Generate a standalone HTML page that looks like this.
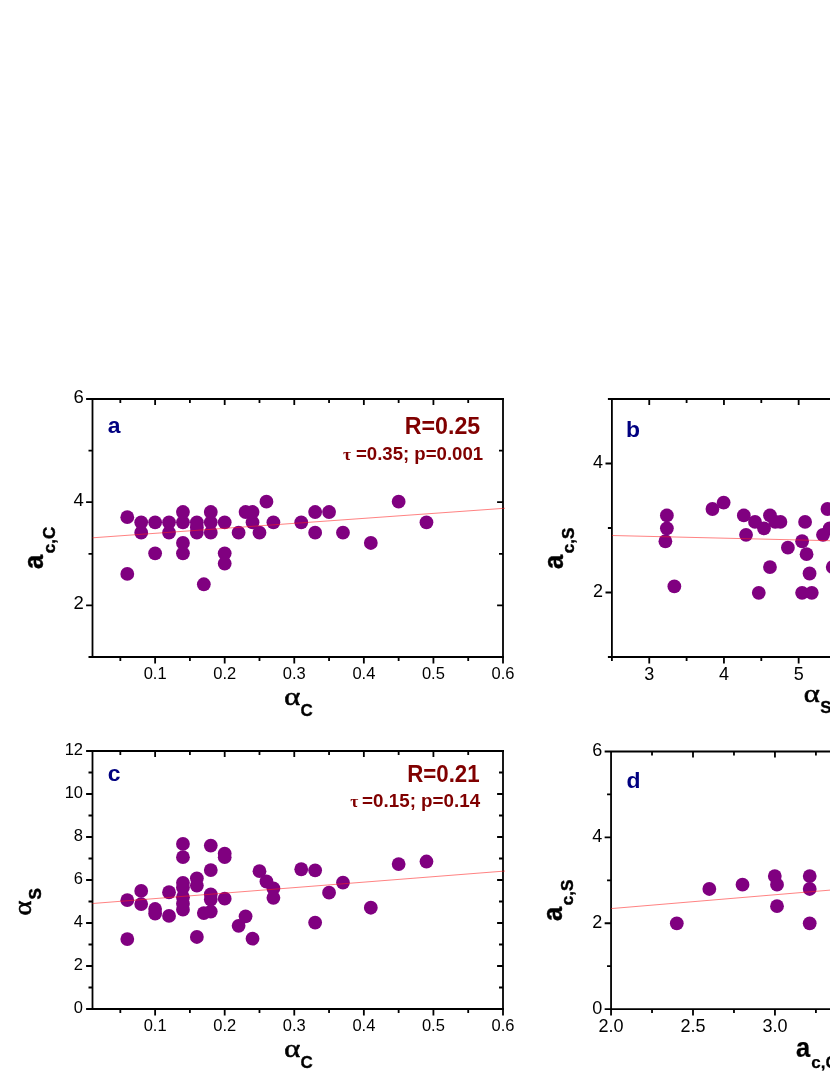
<!DOCTYPE html>
<html><head><meta charset="utf-8"><title>figure</title>
<style>html,body{margin:0;padding:0;background:#fff}svg{display:block;will-change:transform}text{font-family:"Liberation Sans",sans-serif}.tk{fill:#000}.b{font-weight:bold}.sr{font-family:"Liberation Serif",serif}</style></head><body>
<svg width="830" height="1075" viewBox="0 0 830 1075">
<rect width="830" height="1075" fill="#fff"/>
<g fill="#800080">
<circle cx="127.29" cy="517.18" r="6.9"/>
<circle cx="127.29" cy="573.94" r="6.9"/>
<circle cx="141.2" cy="522.34" r="6.9"/>
<circle cx="141.2" cy="532.66" r="6.9"/>
<circle cx="155.12" cy="522.34" r="6.9"/>
<circle cx="155.12" cy="553.3" r="6.9"/>
<circle cx="169.03" cy="522.34" r="6.9"/>
<circle cx="169.03" cy="532.66" r="6.9"/>
<circle cx="182.95" cy="512.02" r="6.9"/>
<circle cx="182.95" cy="522.34" r="6.9"/>
<circle cx="182.95" cy="542.98" r="6.9"/>
<circle cx="182.95" cy="553.3" r="6.9"/>
<circle cx="196.86" cy="522.34" r="6.9"/>
<circle cx="196.86" cy="527.5" r="6.9"/>
<circle cx="196.86" cy="532.66" r="6.9"/>
<circle cx="210.78" cy="512.02" r="6.9"/>
<circle cx="210.78" cy="522.34" r="6.9"/>
<circle cx="210.78" cy="532.66" r="6.9"/>
<circle cx="224.69" cy="522.34" r="6.9"/>
<circle cx="224.69" cy="553.3" r="6.9"/>
<circle cx="224.69" cy="563.62" r="6.9"/>
<circle cx="203.82" cy="584.26" r="6.9"/>
<circle cx="238.61" cy="532.66" r="6.9"/>
<circle cx="245.57" cy="512.02" r="6.9"/>
<circle cx="252.53" cy="512.02" r="6.9"/>
<circle cx="252.53" cy="522.34" r="6.9"/>
<circle cx="259.48" cy="532.66" r="6.9"/>
<circle cx="266.44" cy="501.7" r="6.9"/>
<circle cx="273.4" cy="522.34" r="6.9"/>
<circle cx="301.23" cy="522.34" r="6.9"/>
<circle cx="315.14" cy="512.02" r="6.9"/>
<circle cx="315.14" cy="532.66" r="6.9"/>
<circle cx="329.06" cy="512.02" r="6.9"/>
<circle cx="342.97" cy="532.66" r="6.9"/>
<circle cx="370.81" cy="542.98" r="6.9"/>
<circle cx="398.64" cy="501.7" r="6.9"/>
<circle cx="426.47" cy="522.34" r="6.9"/>
<path d="M92.5 398L92.5 658M91.5 657L504 657M91.5 399L504 399M503 398L503 658M120.33 657L120.33 661M120.33 399L120.33 403M155.12 657L155.12 663.4M155.12 399L155.12 404.9M189.91 657L189.91 661M189.91 399L189.91 403M224.69 657L224.69 663.4M224.69 399L224.69 404.9M259.48 657L259.48 661M259.48 399L259.48 403M294.27 657L294.27 663.4M294.27 399L294.27 404.9M329.06 657L329.06 661M329.06 399L329.06 403M363.85 657L363.85 663.4M363.85 399L363.85 404.9M398.64 657L398.64 661M398.64 399L398.64 403M433.42 657L433.42 663.4M433.42 399L433.42 404.9M468.21 657L468.21 661M468.21 399L468.21 403M503 657L503 663.4M503 399L503 404.9M88.5 657L92.5 657M499 657L503 657M86.1 605.4L92.5 605.4M497.1 605.4L503 605.4M88.5 553.8L92.5 553.8M499 553.8L503 553.8M86.1 502.2L92.5 502.2M497.1 502.2L503 502.2M88.5 450.6L92.5 450.6M499 450.6L503 450.6M86.1 399L92.5 399M497.1 399L503 399" stroke="#000" stroke-width="1.8" fill="none"/>
<line x1="92.5" y1="537.8" x2="505" y2="508.26" stroke="#ff2020" stroke-width="0.7" opacity="0.8"/>
<text class="tk" font-size="16.5" x="155.12" y="679.2" text-anchor="middle">0.1</text>
<text class="tk" font-size="16.5" x="224.69" y="679.2" text-anchor="middle">0.2</text>
<text class="tk" font-size="16.5" x="294.27" y="679.2" text-anchor="middle">0.3</text>
<text class="tk" font-size="16.5" x="363.85" y="679.2" text-anchor="middle">0.4</text>
<text class="tk" font-size="16.5" x="433.42" y="679.2" text-anchor="middle">0.5</text>
<text class="tk" font-size="16.5" x="503" y="679.2" text-anchor="middle">0.6</text>
<text class="tk" font-size="18.5" x="83.9" y="609.4" text-anchor="end">2</text>
<text class="tk" font-size="18.5" x="83.9" y="506.2" text-anchor="end">4</text>
<text class="tk" font-size="18.5" x="83.9" y="403" text-anchor="end">6</text>
<circle cx="127.29" cy="900.21" r="6.9"/>
<circle cx="127.29" cy="939.12" r="6.9"/>
<circle cx="141.2" cy="890.97" r="6.9"/>
<circle cx="141.2" cy="904.08" r="6.9"/>
<circle cx="155.12" cy="909.02" r="6.9"/>
<circle cx="155.12" cy="913.54" r="6.9"/>
<circle cx="169.03" cy="892.25" r="6.9"/>
<circle cx="169.03" cy="915.9" r="6.9"/>
<circle cx="182.95" cy="843.88" r="6.9"/>
<circle cx="182.95" cy="857.21" r="6.9"/>
<circle cx="182.95" cy="882.79" r="6.9"/>
<circle cx="182.95" cy="887.52" r="6.9"/>
<circle cx="182.95" cy="897.2" r="6.9"/>
<circle cx="182.95" cy="903.65" r="6.9"/>
<circle cx="182.95" cy="909.67" r="6.9"/>
<circle cx="196.86" cy="878.28" r="6.9"/>
<circle cx="196.86" cy="885.59" r="6.9"/>
<circle cx="196.86" cy="936.98" r="6.9"/>
<circle cx="203.82" cy="913.11" r="6.9"/>
<circle cx="210.78" cy="845.6" r="6.9"/>
<circle cx="210.78" cy="870.11" r="6.9"/>
<circle cx="210.78" cy="894.4" r="6.9"/>
<circle cx="210.78" cy="899.57" r="6.9"/>
<circle cx="210.78" cy="911.61" r="6.9"/>
<circle cx="224.69" cy="853.55" r="6.9"/>
<circle cx="224.69" cy="857.21" r="6.9"/>
<circle cx="224.69" cy="898.71" r="6.9"/>
<circle cx="238.61" cy="925.79" r="6.9"/>
<circle cx="245.57" cy="916.34" r="6.9"/>
<circle cx="252.53" cy="938.7" r="6.9"/>
<circle cx="259.48" cy="871.18" r="6.9"/>
<circle cx="266.44" cy="881.5" r="6.9"/>
<circle cx="273.4" cy="888.38" r="6.9"/>
<circle cx="273.4" cy="897.85" r="6.9"/>
<circle cx="301.23" cy="869.25" r="6.9"/>
<circle cx="315.14" cy="870.33" r="6.9"/>
<circle cx="315.14" cy="922.57" r="6.9"/>
<circle cx="329.06" cy="892.68" r="6.9"/>
<circle cx="342.97" cy="882.58" r="6.9"/>
<circle cx="370.81" cy="907.74" r="6.9"/>
<circle cx="398.64" cy="864.09" r="6.9"/>
<circle cx="426.47" cy="861.51" r="6.9"/>
<path d="M92.5 750L92.5 1010M91.5 1009L504 1009M91.5 751L504 751M503 750L503 1010M120.33 1009L120.33 1013M120.33 751L120.33 755M155.12 1009L155.12 1015.4M155.12 751L155.12 756.9M189.91 1009L189.91 1013M189.91 751L189.91 755M224.69 1009L224.69 1015.4M224.69 751L224.69 756.9M259.48 1009L259.48 1013M259.48 751L259.48 755M294.27 1009L294.27 1015.4M294.27 751L294.27 756.9M329.06 1009L329.06 1013M329.06 751L329.06 755M363.85 1009L363.85 1015.4M363.85 751L363.85 756.9M398.64 1009L398.64 1013M398.64 751L398.64 755M433.42 1009L433.42 1015.4M433.42 751L433.42 756.9M468.21 1009L468.21 1013M468.21 751L468.21 755M503 1009L503 1015.4M503 751L503 756.9M86.1 1009L92.5 1009M497.1 1009L503 1009M88.5 987.5L92.5 987.5M499 987.5L503 987.5M86.1 966L92.5 966M497.1 966L503 966M88.5 944.5L92.5 944.5M499 944.5L503 944.5M86.1 923L92.5 923M497.1 923L503 923M88.5 901.5L92.5 901.5M499 901.5L503 901.5M86.1 880L92.5 880M497.1 880L503 880M88.5 858.5L92.5 858.5M499 858.5L503 858.5M86.1 837L92.5 837M497.1 837L503 837M88.5 815.5L92.5 815.5M499 815.5L503 815.5M86.1 794L92.5 794M497.1 794L503 794M88.5 772.5L92.5 772.5M499 772.5L503 772.5M86.1 751L92.5 751M497.1 751L503 751" stroke="#000" stroke-width="1.8" fill="none"/>
<line x1="92.5" y1="903.5" x2="505" y2="871.04" stroke="#ff2020" stroke-width="0.7" opacity="0.8"/>
<text class="tk" font-size="16.5" x="155.12" y="1031.2" text-anchor="middle">0.1</text>
<text class="tk" font-size="16.5" x="224.69" y="1031.2" text-anchor="middle">0.2</text>
<text class="tk" font-size="16.5" x="294.27" y="1031.2" text-anchor="middle">0.3</text>
<text class="tk" font-size="16.5" x="363.85" y="1031.2" text-anchor="middle">0.4</text>
<text class="tk" font-size="16.5" x="433.42" y="1031.2" text-anchor="middle">0.5</text>
<text class="tk" font-size="16.5" x="503" y="1031.2" text-anchor="middle">0.6</text>
<text class="tk" font-size="16.5" x="83" y="1013.3" text-anchor="end">0</text>
<text class="tk" font-size="16.5" x="83" y="970.3" text-anchor="end">2</text>
<text class="tk" font-size="16.5" x="83" y="927.3" text-anchor="end">4</text>
<text class="tk" font-size="16.5" x="83" y="884.3" text-anchor="end">6</text>
<text class="tk" font-size="16.5" x="83" y="841.3" text-anchor="end">8</text>
<text class="tk" font-size="16.5" x="83" y="798.3" text-anchor="end">10</text>
<text class="tk" font-size="16.5" x="83" y="755.3" text-anchor="end">12</text>
<circle cx="666.88" cy="515.45" r="6.9"/>
<circle cx="666.88" cy="528.35" r="6.9"/>
<circle cx="665.39" cy="541.25" r="6.9"/>
<circle cx="674.35" cy="586.4" r="6.9"/>
<circle cx="712.45" cy="509" r="6.9"/>
<circle cx="723.65" cy="502.55" r="6.9"/>
<circle cx="743.82" cy="515.45" r="6.9"/>
<circle cx="746.06" cy="534.8" r="6.9"/>
<circle cx="755.03" cy="521.9" r="6.9"/>
<circle cx="763.99" cy="528.35" r="6.9"/>
<circle cx="769.97" cy="515.45" r="6.9"/>
<circle cx="775.2" cy="521.9" r="6.9"/>
<circle cx="780.43" cy="521.9" r="6.9"/>
<circle cx="769.97" cy="567.05" r="6.9"/>
<circle cx="758.76" cy="592.85" r="6.9"/>
<circle cx="787.89" cy="547.7" r="6.9"/>
<circle cx="805.08" cy="521.9" r="6.9"/>
<circle cx="802.09" cy="541.25" r="6.9"/>
<circle cx="806.57" cy="554.15" r="6.9"/>
<circle cx="809.56" cy="573.5" r="6.9"/>
<circle cx="802.09" cy="592.85" r="6.9"/>
<circle cx="811.8" cy="592.85" r="6.9"/>
<circle cx="823" cy="534.8" r="6.9"/>
<circle cx="827.49" cy="509" r="6.9"/>
<circle cx="829.73" cy="528.35" r="6.9"/>
<circle cx="832.72" cy="567.05" r="6.9"/>
<path d="M611.9 398L611.9 658M610.9 657L911.7 657M610.9 399L911.7 399M611.9 657L611.9 661M611.9 399L611.9 403M649.25 657L649.25 663.4M649.25 399L649.25 404.9M686.6 657L686.6 661M686.6 399L686.6 403M723.95 657L723.95 663.4M723.95 399L723.95 404.9M761.3 657L761.3 661M761.3 399L761.3 403M798.65 657L798.65 663.4M798.65 399L798.65 404.9M607.9 657L611.9 657M605.5 592.5L611.9 592.5M607.9 528L611.9 528M605.5 463.5L611.9 463.5M607.9 399L611.9 399" stroke="#000" stroke-width="1.8" fill="none"/>
<line x1="611.9" y1="535.5" x2="840" y2="540.94" stroke="#ff2020" stroke-width="0.7" opacity="0.8"/>
<text class="tk" font-size="18" x="649.25" y="680.1" text-anchor="middle">3</text>
<text class="tk" font-size="18" x="723.95" y="680.1" text-anchor="middle">4</text>
<text class="tk" font-size="18" x="798.65" y="680.1" text-anchor="middle">5</text>
<text class="tk" font-size="18" x="603.1" y="597.3" text-anchor="end">2</text>
<text class="tk" font-size="18" x="603.1" y="468.3" text-anchor="end">4</text>
<circle cx="676.79" cy="923.33" r="6.9"/>
<circle cx="709.33" cy="888.99" r="6.9"/>
<circle cx="742.52" cy="884.69" r="6.9"/>
<circle cx="774.8" cy="876.11" r="6.9"/>
<circle cx="777.02" cy="884.69" r="6.9"/>
<circle cx="777.02" cy="906.16" r="6.9"/>
<circle cx="809.71" cy="876.11" r="6.9"/>
<circle cx="809.71" cy="888.99" r="6.9"/>
<circle cx="809.71" cy="923.33" r="6.9"/>
<path d="M611.05 750.5L611.05 1010.1M610.05 1009.1L939.85 1009.1M610.05 751.5L939.85 751.5M611.05 1009.1L611.05 1015.5M611.05 751.5L611.05 757.4M652.02 1009.1L652.02 1013.1M652.02 751.5L652.02 755.5M693 1009.1L693 1015.5M693 751.5L693 757.4M733.97 1009.1L733.97 1013.1M733.97 751.5L733.97 755.5M774.95 1009.1L774.95 1015.5M774.95 751.5L774.95 757.4M815.92 1009.1L815.92 1013.1M815.92 751.5L815.92 755.5M604.65 1009.1L611.05 1009.1M607.05 966.17L611.05 966.17M604.65 923.23L611.05 923.23M607.05 880.3L611.05 880.3M604.65 837.37L611.05 837.37M607.05 794.43L611.05 794.43M604.65 751.5L611.05 751.5" stroke="#000" stroke-width="1.8" fill="none"/>
<line x1="611.05" y1="908.6" x2="840" y2="889.28" stroke="#ff2020" stroke-width="0.7" opacity="0.8"/>
<text class="tk" font-size="18" x="611.05" y="1032.2" text-anchor="middle">2.0</text>
<text class="tk" font-size="18" x="693" y="1032.2" text-anchor="middle">2.5</text>
<text class="tk" font-size="18" x="774.95" y="1032.2" text-anchor="middle">3.0</text>
<text class="tk" font-size="18" x="602.25" y="1013.9" text-anchor="end">0</text>
<text class="tk" font-size="18" x="602.25" y="928.03" text-anchor="end">2</text>
<text class="tk" font-size="18" x="602.25" y="842.17" text-anchor="end">4</text>
<text class="tk" font-size="18" x="602.25" y="756.3" text-anchor="end">6</text>
</g>
<g class="b">
<text transform="translate(107.8 432.6) scale(1 1)" font-size="22.9" fill="#000080">a</text>
<text transform="translate(626.0 436.6) scale(1 1)" font-size="22.9" fill="#000080">b</text>
<text transform="translate(107.7 780.9) scale(1 1)" font-size="22.9" fill="#000080">c</text>
<text transform="translate(626.6 788.4) scale(1 1)" font-size="22.9" fill="#000080">d</text>
<text transform="translate(480.2 433.7) scale(1 1)" font-size="23.2" text-anchor="end" fill="#800000">R=0.25</text>
<text transform="translate(483.1 459.9) scale(1 1)" font-size="18.6" text-anchor="end" fill="#800000">=0.35; p=0.001</text>
<text class="sr" x="343" y="459.9" font-size="17.5" fill="#800000">τ</text>
<text transform="translate(479.6 781.6) scale(0.96 1)" font-size="23.2" text-anchor="end" fill="#800000">R=0.21</text>
<text transform="translate(480.1 806.8) scale(1.01 1)" font-size="18.6" text-anchor="end" fill="#800000">=0.15; p=0.14</text>
<text class="sr" x="350.2" y="806.8" font-size="17.5" fill="#800000">τ</text>
<text transform="translate(43.3 569) rotate(-90) scale(0.93 1)" font-size="27.4" stroke="#000" stroke-width="0.45" stroke-linejoin="round">a</text>
<text transform="translate(54.7 553.2) rotate(-90)" font-size="17" stroke="#000" stroke-width="0.45" stroke-linejoin="round">c,C</text>
<text transform="translate(563.3 569) rotate(-90) scale(0.93 1)" font-size="27.4" stroke="#000" stroke-width="0.45" stroke-linejoin="round">a</text>
<text transform="translate(573.8 553.3) rotate(-90)" font-size="17" stroke="#000" stroke-width="0.45" stroke-linejoin="round">c,S</text>
<text transform="translate(562.3 921) rotate(-90) scale(0.93 1)" font-size="27.4" stroke="#000" stroke-width="0.45" stroke-linejoin="round">a</text>
<text transform="translate(573.0 905.3) rotate(-90)" font-size="17" stroke="#000" stroke-width="0.45" stroke-linejoin="round">c,S</text>
<text class="sr" transform="translate(30.6 915.6) rotate(-90) scale(1.1 1)" font-size="26" font-weight="normal" stroke="#000" stroke-width="0.55" stroke-linejoin="round">α</text>
<text transform="translate(41.3 899.6) rotate(-90)" font-size="17" stroke="#000" stroke-width="0.5" stroke-linejoin="round">S</text>
<text class="sr" transform="translate(284.2 705) scale(1.18 1)" font-size="26" font-weight="normal" stroke="#000" stroke-width="0.55" stroke-linejoin="round">α</text>
<text transform="translate(300.4 715.8)" font-size="17" stroke="#000" stroke-width="0.3" stroke-linejoin="round">C</text>
<text class="sr" transform="translate(284.2 1057) scale(1.18 1)" font-size="26" font-weight="normal" stroke="#000" stroke-width="0.55" stroke-linejoin="round">α</text>
<text transform="translate(300.4 1067.8)" font-size="17" stroke="#000" stroke-width="0.3" stroke-linejoin="round">C</text>
<text class="sr" transform="translate(803.8 702) scale(1.18 1)" font-size="26" font-weight="normal" stroke="#000" stroke-width="0.55" stroke-linejoin="round">α</text>
<text transform="translate(820.2 712.5)" font-size="17" stroke="#000" stroke-width="0.3" stroke-linejoin="round">S</text>
<text transform="translate(796 1056.8) scale(0.93 1)" font-size="27.4" stroke="#000" stroke-width="0.25" stroke-linejoin="round">a</text>
<text transform="translate(811.2 1068)" font-size="17" stroke="#000" stroke-width="0.25" stroke-linejoin="round">c,C</text>
</g>
</svg></body></html>
